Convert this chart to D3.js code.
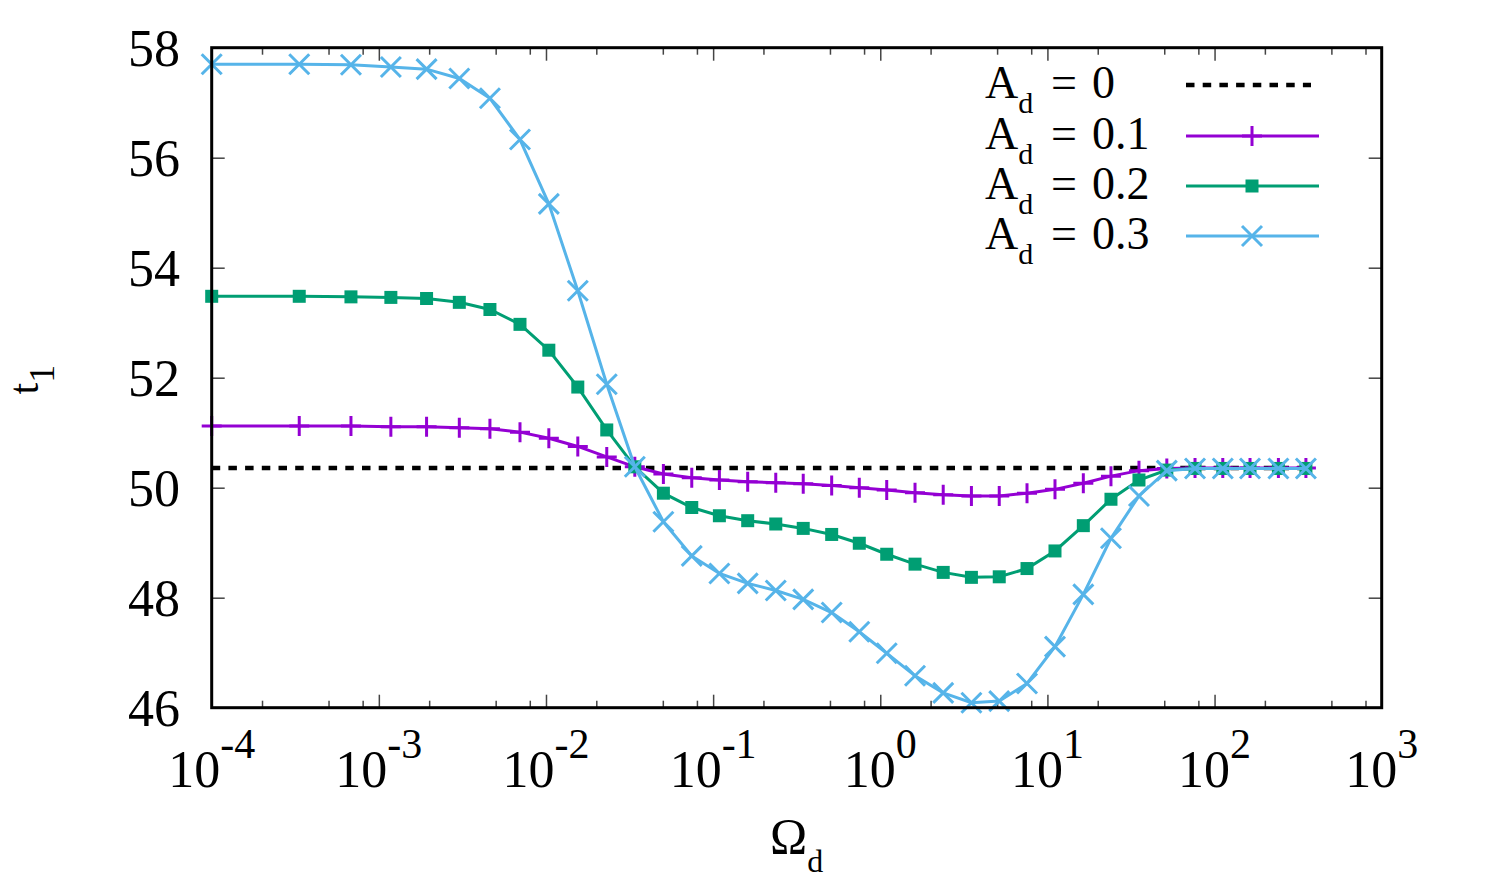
<!DOCTYPE html>
<html>
<head>
<meta charset="utf-8">
<script src="https://cdn.jsdelivr.net/npm/d3@7"></script>
<style>
  html, body { margin: 0; padding: 0; background: #fff; }
  svg { display: block; }
  svg text { font-family: "Liberation Serif", "DejaVu Serif", "Times New Roman", Times, serif; }
</style>
</head>
<body>
<svg id="chart" width="1506" height="878"></svg>
<script>
// ---- data ----
const omega = [1.0e-4, 3.34e-4, 6.81e-4, 1.18e-3, 1.93e-3, 3.03e-3, 4.62e-3, 6.99e-3,
  1.04e-2, 1.55e-2, 2.31e-2, 3.40e-2, 5.04e-2, 7.45e-2, 0.109, 0.161, 0.237, 0.346,
  0.512, 0.749, 1.093, 1.614, 2.38, 3.51, 5.15, 7.55, 11.1, 16.4, 24.0, 35.3, 51.8,
  76.4, 112, 163, 241, 352];
const t1_A0 = [50.36, 50.36, 50.36, 50.36, 50.36, 50.36, 50.36, 50.36, 50.36, 50.36,
  50.36, 50.36, 50.36, 50.36, 50.36, 50.36, 50.36, 50.36, 50.36, 50.36, 50.36, 50.36,
  50.36, 50.36, 50.36, 50.36, 50.36, 50.36, 50.36, 50.36, 50.36, 50.36, 50.36, 50.36,
  50.36, 50.36];
const t1_A01 = [51.12, 51.12, 51.12, 51.11, 51.11, 51.09, 51.07, 51.01, 50.90, 50.75,
  50.56, 50.38, 50.25, 50.18, 50.14, 50.11, 50.09, 50.07, 50.04, 50.00, 49.96, 49.91,
  49.87, 49.85, 49.85, 49.90, 49.97, 50.08, 50.21, 50.31, 50.35, 50.36, 50.36, 50.36,
  50.36, 50.36];
const t1_A02 = [53.48, 53.48, 53.47, 53.46, 53.44, 53.37, 53.24, 52.97, 52.50, 51.83,
  51.05, 50.38, 49.90, 49.64, 49.49, 49.40, 49.34, 49.26, 49.15, 48.99, 48.79, 48.61,
  48.46, 48.37, 48.38, 48.53, 48.85, 49.31, 49.79, 50.14, 50.32, 50.35, 50.35, 50.35,
  50.35, 50.35];
const t1_A03 = [57.70, 57.70, 57.69, 57.65, 57.61, 57.44, 57.08, 56.33, 55.16, 53.58,
  51.88, 50.38, 49.38, 48.76, 48.44, 48.26, 48.13, 47.97, 47.73, 47.38, 46.99, 46.58,
  46.27, 46.09, 46.12, 46.44, 47.11, 48.06, 49.08, 49.85, 50.31, 50.35, 50.35, 50.35,
  50.35, 50.35];

const seriesLabels = ["0", "0.1", "0.2", "0.3"];
const seriesColors = ["#000000", "#9400D3", "#009E73", "#56B4E9"];
const seriesMarkers = ["none", "plus", "square", "cross"];

const xMajorExps = [-4, -3, -2, -1, 0, 1, 2, 3];
const xMinorMults = [2, 5, 8];
const yTicks = [46, 48, 50, 52, 54, 56, 58];

// ---- layout ----
const FONT = '"Liberation Serif", "DejaVu Serif", "Times New Roman", serif';
const L = 211.7, R = 1381.7, T = 47.7, B = 707.7;
const svg = d3.select("#chart");
svg.append("rect").attr("width", 1506).attr("height", 878).attr("fill", "#fff");

const x = d3.scaleLog().domain([1e-4, 1e3]).range([L, R]);
const y = d3.scaleLinear().domain([46, 58]).range([B, T]);

const majors = xMajorExps.map(e => Math.pow(10, e));
const minors = [];
xMajorExps.slice(0, -1).forEach(e => xMinorMults.forEach(m => minors.push(m * Math.pow(10, e))));

function styleAxis(g) {
  g.select(".domain").remove();
  g.selectAll(".tick line").attr("stroke", "#444").attr("stroke-width", 1.5);
  g.selectAll(".tick text").remove();
}
svg.append("g").attr("transform", `translate(0,${B})`)
  .call(d3.axisBottom(x).tickValues(majors).tickSize(-13).tickFormat(() => "")).call(styleAxis);
svg.append("g").attr("transform", `translate(0,${B})`)
  .call(d3.axisBottom(x).tickValues(minors).tickSize(-7).tickFormat(() => "")).call(styleAxis);
svg.append("g").attr("transform", `translate(0,${T})`)
  .call(d3.axisTop(x).tickValues(majors).tickSize(-13).tickFormat(() => "")).call(styleAxis);
svg.append("g").attr("transform", `translate(0,${T})`)
  .call(d3.axisTop(x).tickValues(minors).tickSize(-7).tickFormat(() => "")).call(styleAxis);
svg.append("g").attr("transform", `translate(${L},0)`)
  .call(d3.axisLeft(y).tickValues(yTicks).tickSize(-13).tickFormat(() => "")).call(styleAxis);
svg.append("g").attr("transform", `translate(${R},0)`)
  .call(d3.axisRight(y).tickValues(yTicks).tickSize(-13).tickFormat(() => "")).call(styleAxis);

// x tick labels
xMajorExps.forEach(e => {
  const t = svg.append("text").attr("x", x(Math.pow(10, e))).attr("y", 787)
    .attr("text-anchor", "middle").attr("font-family", FONT).attr("font-size", 52).attr("fill", "#000");
  t.append("tspan").text("10");
  t.append("tspan").attr("dy", -29).attr("font-size", 42).text(String(e));
});
// y tick labels
yTicks.forEach(v => {
  svg.append("text").attr("x", 180).attr("y", y(v) + 18)
    .attr("text-anchor", "end").attr("font-family", FONT).attr("font-size", 52).attr("fill", "#000").text(v);
});

// axis titles
const xt = svg.append("text").attr("x", (L + R) / 2).attr("y", 853)
  .attr("text-anchor", "middle").attr("font-family", FONT).attr("font-size", 50);
xt.append("tspan").text("Ω");
xt.append("tspan").attr("dy", 19).attr("font-size", 32).text("d");

const yt = svg.append("text").attr("transform", `translate(38,${(T + B) / 2 + 2}) rotate(-90)`)
  .attr("text-anchor", "middle").attr("font-family", FONT).attr("font-size", 42);
yt.append("tspan").text("t");
yt.append("tspan").attr("dy", 16).attr("font-size", 36).text("1");

// ---- series ----
const allSeries = [t1_A0, t1_A01, t1_A02, t1_A03];
const line = d3.line().x(d => x(d[0])).y(d => y(d[1]));

function drawMarker(g, type, color, cx, cy) {
  if (type === "plus") {
    g.append("path").attr("d", `M${cx - 10},${cy}H${cx + 10}M${cx},${cy - 10}V${cy + 10}`)
      .attr("stroke", color).attr("stroke-width", 3).attr("fill", "none");
  } else if (type === "square") {
    g.append("rect").attr("x", cx - 6.5).attr("y", cy - 6.5).attr("width", 13).attr("height", 13)
      .attr("fill", color);
  } else if (type === "cross") {
    g.append("path").attr("d", `M${cx - 10},${cy - 10}L${cx + 10},${cy + 10}M${cx - 10},${cy + 10}L${cx + 10},${cy - 10}`)
      .attr("stroke", color).attr("stroke-width", 3).attr("fill", "none");
  }
}

allSeries.forEach((vals, i) => {
  const pts = omega.map((o, k) => [o, vals[k]]);
  const g = svg.append("g");
  const p = g.append("path").attr("d", line(pts)).attr("fill", "none")
    .attr("stroke", seriesColors[i]);
  if (i === 0) {
    p.attr("stroke-width", 4.5).attr("stroke-dasharray", "8.5,8.2");
  } else {
    p.attr("stroke-width", 3);
    pts.forEach(d => drawMarker(g, seriesMarkers[i], seriesColors[i], x(d[0]), y(d[1])));
  }
});

// border
svg.append("rect").attr("x", L).attr("y", T).attr("width", R - L).attr("height", B - T)
  .attr("fill", "none").attr("stroke", "#000").attr("stroke-width", 3);

// ---- legend ----
const legRows = [85, 136, 186, 236];
seriesLabels.forEach((lab, i) => {
  const ly = legRows[i];
  const t = svg.append("text").attr("x", 985).attr("y", ly + 13)
    .attr("font-family", FONT).attr("font-size", 46);
  t.append("tspan").text("A");
  t.append("tspan").attr("dy", 15).attr("font-size", 30).text("d");
  t.append("tspan").attr("x", 1051).attr("dy", -15).text("=");
  t.append("tspan").attr("x", 1092).text(lab);
  const g = svg.append("g");
  const p = g.append("line").attr("x1", 1186).attr("x2", i === 0 ? 1311 : 1319)
    .attr("y1", ly).attr("y2", ly).attr("stroke", seriesColors[i]);
  if (i === 0) p.attr("stroke-width", 4.5).attr("stroke-dasharray", "8.5,8.2");
  else {
    p.attr("stroke-width", 3);
    drawMarker(g, seriesMarkers[i], seriesColors[i], 1252, ly);
  }
});
</script>
</body>
</html>
